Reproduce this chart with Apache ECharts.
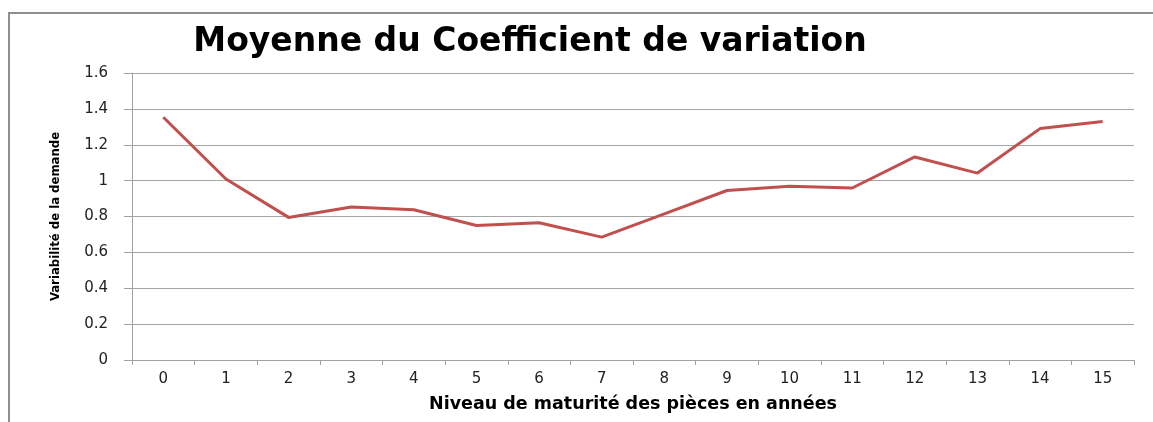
<!DOCTYPE html>
<html>
<head>
<meta charset="utf-8">
<script src="https://cdn.jsdelivr.net/npm/echarts@6/dist/echarts.min.js"></script>
<style>
  html, body { margin: 0; padding: 0; background: #fff; }
  #frame {
    position: absolute; left: 8px; top: 12px; right: -4px; bottom: -4px;
    border-top: 2px solid #8f8f8f; border-left: 2px solid #8f8f8f;
  }
  #chart { position: absolute; left: 0; top: 0; width: 1153px; height: 422px; }
</style>
</head>
<body>
<div id="frame"></div>
<div id="chart"></div>
<script>
// niveaux de maturité (années)
const annees = ['0', '1', '2', '3', '4', '5', '6', '7', '8', '9', '10', '11', '12', '13', '14', '15']
// moyenne du coefficient de variation
const coefVariation = [1.353, 1.009, 0.795, 0.853, 0.838, 0.75, 0.765, 0.685, 0.815, 0.945, 0.968, 0.959, 1.132, 1.042, 1.29, 1.33]

const chart = echarts.init(document.getElementById('chart'))
chart.setOption({
  animation: false,
  title: {
    text: 'Moyenne du Coefficient de variation',
    left: 525,
    top: 21,
    textAlign: 'center',
    textStyle: { fontFamily: 'DejaVu Sans', fontWeight: 'bold', fontSize: 33, color: '#000' }
  },
  grid: { left: 132, top: 73, width: 1002, height: 287 },
  xAxis: {
    type: 'category',
    data: annees,
    name: 'Niveau de maturité des pièces en années',
    nameLocation: 'middle',
    nameGap: 35,
    nameTextStyle: { fontFamily: 'DejaVu Sans', fontWeight: 'bold', fontSize: 17.5, color: '#000' },
    axisLine: { lineStyle: { color: '#a0a0a0', width: 1 } },
    axisTick: { show: true, length: 5, lineStyle: { color: '#a0a0a0' } },
    axisLabel: { margin: 12, fontFamily: 'DejaVu Sans', fontSize: 15, color: '#222' }
  },
  yAxis: {
    type: 'value',
    min: 0,
    max: 1.6,
    interval: 0.2,
    name: 'Variabilité de la demande',
    nameLocation: 'middle',
    nameRotate: 90,
    nameGap: 70,
    nameTextStyle: { fontFamily: 'DejaVu Sans Condensed', fontWeight: 'bold', fontSize: 13, color: '#000' },
    axisLine: { show: true, lineStyle: { color: '#a0a0a0', width: 1 } },
    axisTick: { show: true, length: 8, lineStyle: { color: '#a0a0a0' } },
    axisLabel: { margin: 24, fontFamily: 'DejaVu Sans', fontSize: 15, color: '#222' },
    splitLine: { lineStyle: { color: '#a6a6a6', width: 1 } }
  },
  series: [
    {
      type: 'line',
      data: coefVariation,
      symbol: 'none',
      lineStyle: { color: '#c0504d', width: 3 }
    }
  ]
})
</script>
</body>
</html>
